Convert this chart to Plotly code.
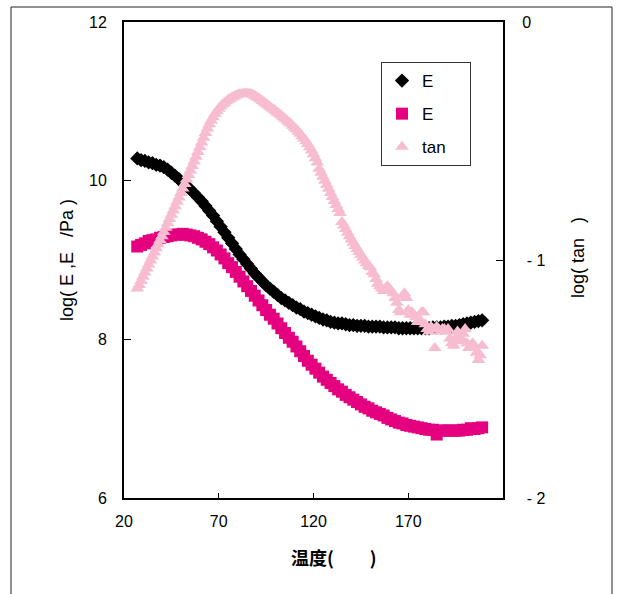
import plotly.graph_objects as go

# ---------------- data ----------------
temp_E = list(range(27, 210, 2))  # measurement temperatures for E', E''

E_storage = [
    10.28, 10.26, 10.25, 10.23, 10.22, 10.20, 10.19, 10.17, 10.14, 10.10,
    10.06, 10.02, 9.97, 9.93, 9.89, 9.84, 9.79, 9.74, 9.68, 9.62,
    9.56, 9.49, 9.42, 9.35, 9.28, 9.21, 9.14, 9.07, 9.01, 8.95,
    8.89, 8.83, 8.78, 8.73, 8.68, 8.64, 8.60, 8.56, 8.52, 8.49,
    8.46, 8.43, 8.40, 8.38, 8.35, 8.33, 8.31, 8.29, 8.27, 8.25,
    8.24, 8.22, 8.21, 8.20, 8.20, 8.19, 8.18, 8.18, 8.17, 8.17,
    8.17, 8.16, 8.16, 8.16, 8.16, 8.15, 8.15, 8.15, 8.15, 8.14,
    8.14, 8.14, 8.14, 8.14, 8.14, 8.14, 8.14, 8.14, 8.15, 8.15,
    8.15, 8.16, 8.16, 8.17, 8.17, 8.18, 8.19, 8.20, 8.21, 8.22,
    8.23, 8.24,
]

E_loss = [
    9.17, 9.19, 9.21, 9.24, 9.25, 9.26, 9.28, 9.29, 9.30, 9.31,
    9.32, 9.32, 9.33, 9.32, 9.31, 9.30, 9.28, 9.26, 9.23, 9.20,
    9.16, 9.12, 9.07, 9.02, 8.96, 8.91, 8.85, 8.79, 8.73, 8.67,
    8.61, 8.55, 8.49, 8.43, 8.37, 8.31, 8.26, 8.20, 8.14, 8.08,
    8.02, 7.97, 7.91, 7.85, 7.79, 7.73, 7.68, 7.63, 7.58, 7.53,
    7.49, 7.45, 7.41, 7.37, 7.34, 7.30, 7.27, 7.24, 7.21, 7.18,
    7.15, 7.13, 7.10, 7.08, 7.06, 7.04, 7.01, 6.99, 6.97, 6.95,
    6.94, 6.92, 6.91, 6.90, 6.89, 6.88, 6.87, 6.86, 6.86, 6.80,
    6.85, 6.85, 6.85, 6.85, 6.85, 6.85, 6.86, 6.86, 6.88, 6.87,
    6.88, 6.89,
]

temp_tan = list(range(27, 210))  # measurement temperatures for tan delta

tan_delta = [
    -1.120, -1.105, -1.088, -1.070, -1.053, -1.036, -1.019, -1.002, -0.985, -0.968,
    -0.951, -0.934, -0.917, -0.900, -0.882, -0.864, -0.846, -0.828, -0.810, -0.792,
    -0.774, -0.755, -0.737, -0.718, -0.700, -0.681, -0.662, -0.643, -0.624, -0.605,
    -0.586, -0.566, -0.546, -0.526, -0.506, -0.486, -0.466, -0.447, -0.430, -0.414,
    -0.400, -0.387, -0.375, -0.364, -0.355, -0.347, -0.340, -0.333, -0.327, -0.322,
    -0.317, -0.313, -0.309, -0.306, -0.304, -0.302, -0.301, -0.300, -0.300, -0.301,
    -0.303, -0.306, -0.310, -0.315, -0.320, -0.326, -0.332, -0.338, -0.344, -0.350,
    -0.356, -0.362, -0.368, -0.374, -0.380, -0.387, -0.393, -0.400, -0.407, -0.414,
    -0.421, -0.428, -0.436, -0.444, -0.452, -0.461, -0.470, -0.480, -0.490, -0.501,
    -0.513, -0.526, -0.540, -0.556, -0.573, -0.590, -0.617, -0.633, -0.650, -0.667,
    -0.684, -0.701, -0.718, -0.735, -0.752, -0.769, -0.786, -0.803, -0.840, -0.855,
    -0.870, -0.885, -0.900, -0.914, -0.928, -0.941, -0.954, -0.966, -0.978, -0.990,
    -1.002, -1.014, -1.025, -1.03, -1.05, -1.06, -1.08, -1.10, -1.11, -1.12,
    -1.13, -1.12, -1.11, -1.12, -1.13, -1.14, -1.16, -1.18, -1.21, -1.22,
    -1.15, -1.14, -1.16, -1.21, -1.23, -1.22, -1.23, -1.24, -1.26, -1.25,
    -1.22, -1.22, -1.27, -1.29, -1.30, -1.28, -1.29, -1.37, -1.28, -1.29,
    -1.30, -1.29, -1.29, -1.30, -1.29, -1.33, -1.35, -1.36, -1.33, -1.30,
    -1.34, -1.33, -1.31, -1.29, -1.35, -1.37, -1.36, -1.35, -1.37, -1.39,
    -1.42, -1.40, -1.36,
]

x_ticks = [20, 70, 120, 170]
y_ticks = [6, 8, 10, 12]
y2_ticks = [-2, -1, 0]
y2_ticktext = ["\u00a0- 2", "\u00a0- 1", "0"]
series_names = ["E", "E", "tan\u00a0\u00a0\u00a0\u00a0"]

# ---------------- figure ----------------
FONT = "Liberation Sans, Arial, sans-serif"

fig = go.Figure()
fig.add_trace(go.Scatter(
    x=temp_E[:len(E_storage)], y=E_storage, mode="markers", name=series_names[0],
    legendgroup="g1",
    marker=dict(symbol="diamond", size=11, color="#000000", line=dict(width=0)),
))
fig.add_trace(go.Scatter(
    x=temp_E[:len(E_loss)], y=E_loss, mode="markers", name=series_names[1],
    legendgroup="g2",
    marker=dict(symbol="square", size=12, color="#E4007F", line=dict(width=0)),
))
fig.add_trace(go.Scatter(
    x=temp_tan[:len(tan_delta)], y=tan_delta, mode="markers", name=series_names[2],
    yaxis="y2", legendgroup="g3",
    marker=dict(symbol="triangle-up", size=12, color="#F7BCD0", line=dict(width=0)),
))

L, R, T, B = 124, 114, 22, 96
W, H = 617, 594
pw, ph = W - L - R, H - T - B


def px_x(px):
    return (px - L) / pw


def px_y(py):
    return (H - B - py) / ph


NB = "\u00a0"

fig.update_layout(
    width=W, height=H,
    margin=dict(l=L, r=R, t=T, b=B, pad=0),
    paper_bgcolor="white", plot_bgcolor="white",
    font=dict(family=FONT, size=16, color="black"),
    showlegend=True,
    legend=dict(
        x=px_x(381), y=px_y(62), xanchor="left", yanchor="top",
        bgcolor="white", bordercolor="#333333", borderwidth=1,
        font=dict(family=FONT, size=17, color="black"),
        traceorder="grouped", tracegroupgap=8, itemwidth=30,
    ),
    xaxis=dict(
        range=[20, 220], tickvals=x_ticks, ticks="inside", ticklen=5, tickwidth=1,
        tickcolor="black", showline=True, linewidth=2, linecolor="black",
        mirror=True, showgrid=False, zeroline=False, ticklabelstandoff=8,
        tickfont=dict(family=FONT, size=16, color="black"),
    ),
    yaxis=dict(
        range=[6, 12], tickvals=y_ticks, ticks="inside", ticklen=7, tickwidth=1,
        tickcolor="black", showline=True, linewidth=2, linecolor="black",
        mirror=True, showgrid=False, zeroline=False, ticklabelstandoff=12,
        tickfont=dict(family=FONT, size=16, color="black"),
    ),
    yaxis2=dict(
        range=[-2, 0], overlaying="y", side="right", tickvals=y2_ticks,
        ticktext=y2_ticktext, ticks="inside", ticklen=7, tickwidth=1,
        tickcolor="black", showline=True, linewidth=2, linecolor="black",
        showgrid=False, zeroline=False, ticklabelstandoff=14,
        tickfont=dict(family=FONT, size=16, color="black"),
    ),
    annotations=[
        dict(text=f"log({NB}E{NB},E{NB}{NB}{NB}/Pa{NB})", xref="paper", yref="paper",
             x=px_x(67), y=px_y(260), textangle=-90, showarrow=False,
             xanchor="center", yanchor="middle",
             font=dict(family=FONT, size=18, color="black")),
        dict(text=f"log({NB}tan{NB}{NB}{NB})", xref="paper", yref="paper",
             x=px_x(578), y=px_y(258), textangle=-90, showarrow=False,
             xanchor="center", yanchor="middle",
             font=dict(family=FONT, size=18, color="black")),
        dict(text="<b>温度(\u3000\u3000)</b>", xref="paper", yref="paper",
             x=px_x(334), y=px_y(557), showarrow=False,
             xanchor="center", yanchor="middle",
             font=dict(family="Noto Sans CJK SC, sans-serif", size=18, color="black")),
    ],
    shapes=[
        dict(type="rect", xref="paper", yref="paper",
             x0=px_x(11), x1=px_x(612), y0=px_y(640), y1=px_y(7),
             line=dict(color="#222222", width=1), fillcolor="rgba(0,0,0,0)",
             layer="below"),
    ],
)

fig.write_html("out.html")
